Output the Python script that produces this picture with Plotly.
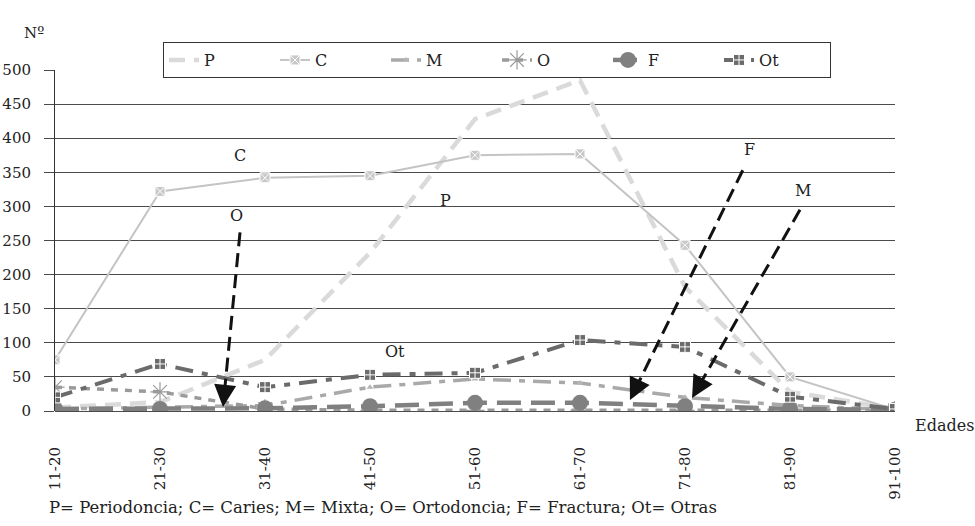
import plotly.graph_objects as go

categories = ["11-20", "21-30", "31-40", "41-50", "51-60", "61-70", "71-80", "81-90", "91-100"]
P = [5, 13, 75, 232, 428, 485, 182, 28, 3]
C = [75, 322, 342, 345, 375, 377, 243, 50, 2]
M = [3, 5, 8, 35, 47, 41, 20, 8, 2]
O = [35, 28, 3, 1, 1, 1, 1, 1, 1]
F = [3, 3, 4, 7, 12, 12, 7, 3, 2]
Ot = [20, 69, 35, 53, 56, 104, 94, 21, 3]

x = list(range(len(categories)))
SERIF = "DejaVu Serif"

fig = go.Figure()
fig.add_trace(go.Scatter(x=x, y=P, name="P", mode="lines",
                         line=dict(color="#dadada", width=4.5, dash="16px,9px")))
fig.add_trace(go.Scatter(x=x, y=C, name="C", mode="lines+markers",
                         line=dict(color="#c4c4c4", width=2),
                         marker=dict(symbol="square-x", size=10, color="#c8c8c8",
                                     line=dict(color="white", width=1))))
fig.add_trace(go.Scatter(x=x, y=M, name="M", mode="lines+markers",
                         line=dict(color="#a9a9a9", width=3.5, dash="18px,8px,6px,8px"),
                         marker=dict(symbol="triangle-up", size=6, color="#b5b5b5")))
fig.add_trace(go.Scatter(x=x, y=O, name="O", mode="lines+markers",
                         line=dict(color="#9a9a9a", width=3.5, dash="7px,7px"),
                         marker=dict(symbol="asterisk-open", size=16,
                                     line=dict(color="#9a9a9a", width=1.2))))
fig.add_trace(go.Scatter(x=x, y=F, name="F", mode="lines+markers",
                         line=dict(color="#808080", width=4.5, dash="24px,10px"),
                         marker=dict(symbol="circle", size=16, color="#808080")))
fig.add_trace(go.Scatter(x=x, y=Ot, name="Ot", mode="lines+markers",
                         line=dict(color="#6b6b6b", width=4, dash="18px,9px,6px,9px"),
                         marker=dict(symbol="square-cross", size=11, color="#6b6b6b",
                                     line=dict(color="white", width=1))))

# dashed arrows: (start_x, start_y, tip_x, tip_y, label, label_x, label_y)
arrows = [
    (1.762, 262, 1.60, 6, "O", 1.73, 287),
    (6.55, 353, 5.476, 16, "F", 6.61, 383),
    (7.095, 295, 6.067, 19, "M", 7.12, 324),
]
for sx, sy, tx, ty, lab, lx, ly in arrows:
    ex = sx + (tx - sx) * 0.93
    ey = sy + (ty - sy) * 0.93
    fig.add_shape(type="line", x0=sx, y0=sy, x1=ex, y1=ey, xref="x", yref="y",
                  line=dict(color="#111111", width=3, dash="14px,7px"))
    hx = sx + (tx - sx) * 0.90
    hy = sy + (ty - sy) * 0.90
    fig.add_annotation(x=tx, y=ty, ax=hx, ay=hy, xref="x", yref="y", axref="x", ayref="y",
                       text="", showarrow=True, arrowhead=2, arrowsize=1.7, arrowwidth=2.6,
                       arrowcolor="#111111")
    fig.add_annotation(x=lx, y=ly, xref="x", yref="y", text=lab, showarrow=False,
                       font=dict(family=SERIF, size=16, color="#222"))

for lab, lx, ly in [("C", 1.76, 375), ("P", 3.72, 309), ("Ot", 3.24, 87)]:
    fig.add_annotation(x=lx, y=ly, xref="x", yref="y", text=lab, showarrow=False,
                       font=dict(family=SERIF, size=16, color="#222"))

fig.add_annotation(x=-0.0387, y=1.141, xref="paper", yref="paper", text="Nº", showarrow=False,
                   font=dict(family=SERIF, size=15, color="#222"))
fig.add_annotation(x=1.0214, y=-0.077, xref="paper", yref="paper", xanchor="left",
                   text="Edades", showarrow=False,
                   font=dict(family=SERIF, size=16, color="#222"))
fig.add_annotation(x=-0.0095, y=-0.317, xref="paper", yref="paper", xanchor="left",
                   text="P= Periodoncia; C= Caries; M= Mixta; O= Ortodoncia; F= Fractura; Ot= Otras",
                   showarrow=False, font=dict(family=SERIF, size=16.5, color="#222"))

fig.update_layout(
    width=975, height=526,
    margin=dict(l=55, r=80, t=70, b=115, autoexpand=False),
    paper_bgcolor="white", plot_bgcolor="white",
    font=dict(family=SERIF, size=15, color="#222"),
    showlegend=True,
    legend=dict(orientation="h", x=0.1286, y=1.082, xanchor="left", yanchor="top",
                bgcolor="white", bordercolor="#333", borderwidth=1,
                font=dict(family=SERIF, size=16, color="#222"),
                entrywidth=66, entrywidthmode="pixels", traceorder="normal"),
    xaxis=dict(range=[0, 8], tickmode="array", tickvals=x, ticktext=categories,
               tickangle=-90, showgrid=False, zeroline=False, showline=False, automargin=False,
               ticks="", ticklabelstandoff=32, tickfont=dict(family=SERIF, size=15)),
    yaxis=dict(range=[0, 500], tickmode="linear", dtick=50, showgrid=True, automargin=False,
               gridcolor="#4a4a4a", gridwidth=1, zeroline=True, zerolinecolor="#4a4a4a",
               zerolinewidth=1, showline=True, linecolor="#333", linewidth=1,
               ticks="outside", ticklen=10, tickcolor="#4a4a4a", ticklabelstandoff=10,
               tickfont=dict(family=SERIF, size=15)),
)

fig.write_html("out.html")
